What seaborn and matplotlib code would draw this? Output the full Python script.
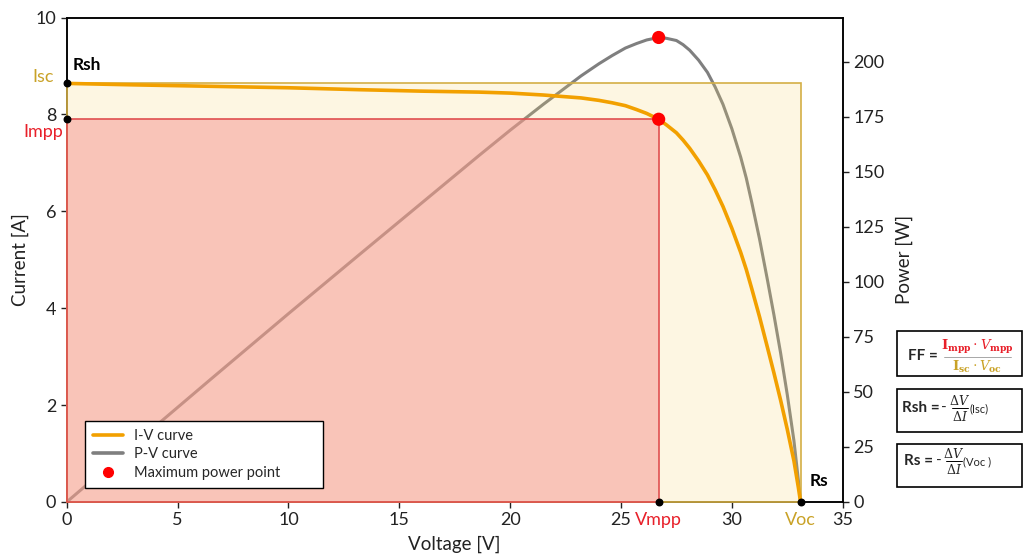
import matplotlib
matplotlib.use("Agg")
import matplotlib.pyplot as plt
import seaborn as sns
from matplotlib.patches import Rectangle
from matplotlib.lines import Line2D

# Measured I-V characteristic of the PV module
voltage = [0.0, 3.0, 6.5, 10.0, 13.2, 16.0, 18.6, 20.0, 21.5, 23.2, 24.0, 24.6,
           25.2, 25.7, 26.16, 26.7, 27.06, 27.5, 27.8, 28.1, 28.5, 28.9, 29.25,
           29.6, 30.0, 30.4, 30.65, 30.9, 31.25, 31.6, 31.9, 32.2, 32.5, 32.8,
           33.0, 33.1]
current = [8.64, 8.61, 8.58, 8.55, 8.51, 8.48, 8.46, 8.44, 8.40, 8.34, 8.29, 8.24,
           8.18, 8.10, 8.02, 7.90, 7.78, 7.62, 7.47, 7.30, 7.04, 6.75, 6.44,
           6.10, 5.65, 5.15, 4.80, 4.40, 3.82, 3.20, 2.66, 2.10, 1.50, 0.85,
           0.30, 0.0]
power = [v * i for v, i in zip(voltage, current)]

# Characteristic points
Isc = 8.64
Voc = 33.1
Vmpp = 26.7
Impp = 7.90
Pmpp = Vmpp * Impp

x_ticks = [0, 5, 10, 15, 20, 25, 30, 35]
y_ticks = [0, 2, 4, 6, 8, 10]
p_ticks = [0, 25, 50, 75, 100, 125, 150, 175, 200]

ORANGE = "#F2A000"
GREY = "#7F7F7F"
GOLD = "#C9A227"
RED = "#E8202A"

sns.set_theme(style="ticks")
plt.rcParams["font.family"] = ["Lato", "DejaVu Sans"]

W, H = 1024, 560
fig = plt.figure(figsize=(W / 100, H / 100), dpi=100)


def fx(x):
    return x / W


def fy(y):
    return 1 - y / H


ax = fig.add_axes([fx(66.7), fy(502), fx(842.7) - fx(66.7), fy(17.5) - fy(502)])
ax2 = ax.twinx()
ax.set_zorder(ax2.get_zorder() + 1)
ax.patch.set_visible(False)
ax2.patch.set_visible(True)
ax2.patch.set_facecolor("white")

# Isc x Voc and Impp x Vmpp rectangles
ax.add_patch(Rectangle((0, 0), Voc, Isc, facecolor=(0.96, 0.84, 0.43, 0.2),
                       edgecolor="#D4AF45", lw=1.2, zorder=3, clip_on=False))
ax.add_patch(Rectangle((0, 0), Vmpp, Impp, facecolor=(0.969, 0.577, 0.565, 0.5),
                       edgecolor="#E05050", lw=1.2, zorder=3, clip_on=False))

# Curves
sns.lineplot(x=voltage, y=current, ax=ax, color=ORANGE, lw=2.6, zorder=4)
sns.lineplot(x=voltage, y=power, ax=ax2, color=GREY, lw=2.2, zorder=2)

# Maximum power point on both curves
sns.scatterplot(x=[Vmpp], y=[Impp], ax=ax, color="red", s=90, edgecolor="none",
                zorder=6, clip_on=False)
sns.scatterplot(x=[Vmpp], y=[Pmpp], ax=ax2, color="red", s=90, edgecolor="none",
                zorder=6, clip_on=False)

# Small black markers on the axes
ax.scatter([0, 0, Vmpp, Voc], [Isc, Impp, 0, 0], s=22, color="black",
           zorder=7, clip_on=False)

ax.set_xlim(0, 35)
ax.set_ylim(0, 10)
ax2.set_ylim(0, 220)
ax.set_xticks(x_ticks)
ax.set_yticks(y_ticks)
ax2.set_yticks(p_ticks)

for a in (ax, ax2):
    for s in a.spines.values():
        s.set_color("black")
        s.set_linewidth(1.1)
    a.tick_params(length=4, width=1, colors="#222222", labelsize=13)

ax.set_xlabel("Voltage [V]", fontsize=13.5, color="#222222", labelpad=5)
ax.set_ylabel("Current [A]", fontsize=13.5, color="#222222", labelpad=5)
ax2.set_ylabel("Power [W]", fontsize=13.5, color="#222222", labelpad=8)

# Point labels
ax.annotate("Isc", xy=(0, Isc), xytext=(-17, 4.5), textcoords="offset points",
            ha="center", va="center", color=GOLD, fontsize=13, annotation_clip=False)
ax.annotate("Impp", xy=(0, Impp), xytext=(-17, -9), textcoords="offset points",
            ha="center", va="center", color=RED, fontsize=13, annotation_clip=False)
ax.annotate("Rsh", xy=(0, Isc), xytext=(4.5, 13.5), textcoords="offset points",
            ha="left", va="center", color="black", fontsize=12.5, fontweight="bold",
            annotation_clip=False)
ax.annotate("Rs", xy=(Voc, 0), xytext=(6.5, 15), textcoords="offset points",
            ha="left", va="center", color="black", fontsize=12.5, fontweight="bold",
            annotation_clip=False)
ax.annotate("Vmpp", xy=(Vmpp, 0), xytext=(0, -7.5), textcoords="offset points",
            ha="center", va="top", color=RED, fontsize=13, annotation_clip=False)
ax.annotate("Voc", xy=(Voc, 0), xytext=(0, -7.5), textcoords="offset points",
            ha="center", va="top", color=GOLD, fontsize=13, annotation_clip=False)

# Legend
handles = [Line2D([], [], color=ORANGE, lw=2.6),
           Line2D([], [], color=GREY, lw=2.6),
           Line2D([], [], color="red", marker="o", ls="none", markersize=7)]
labels = ["I-V curve", "P-V curve", "Maximum power point"]
leg = ax.legend(handles, labels, loc="lower left", mode="expand",
                bbox_to_anchor=(0.0146, 0.0144, 0.325, 0.15), fontsize=10.5,
                frameon=True, fancybox=False, edgecolor="black", framealpha=1,
                handlelength=2.0, labelspacing=0.3, borderpad=0.55)
leg.get_frame().set_linewidth(1.0)
leg.set_zorder(10)

# Formula boxes
box_kw = dict(transform=fig.transFigure, facecolor="white", edgecolor="black", lw=1.2)
for top, bottom in [(331, 376), (389, 432), (444, 487)]:
    fig.add_artist(Rectangle((fx(897), fy(bottom)), fx(1022) - fx(897),
                             fy(top) - fy(bottom), **box_kw))

fig.text(fx(908), fy(356), "FF =", fontsize=11, fontweight="bold", va="center", ha="left")
fig.text(fx(977), fy(347), r"$\mathbf{I}_{\mathbf{mpp}}\cdot V_{\mathbf{mpp}}$",
         color=RED, fontsize=9.5, ha="center", va="center", math_fontfamily="dejavuserif")
fig.add_artist(Line2D([fx(944), fx(1011)], [fy(357), fy(357)], color="#999999",
                      lw=0.6, transform=fig.transFigure))
fig.text(fx(977), fy(367), r"$\mathbf{I}_{\mathbf{sc}}\cdot V_{\mathbf{oc}}$",
         color=GOLD, fontsize=9.5, ha="center", va="center", math_fontfamily="dejavuserif")


def frac_box(label, x_label, x_minus, x_frac, x_paren, y_mid, paren):
    fig.text(fx(x_label), fy(y_mid), label, fontsize=11, fontweight="bold",
             va="center", ha="left")
    fig.text(fx(x_minus), fy(y_mid), "-", fontsize=11, va="center", ha="center")
    fig.text(fx(x_frac), fy(y_mid - 8), r"$\Delta V$", fontsize=9, ha="center",
             va="center", math_fontfamily="dejavuserif")
    fig.add_artist(Line2D([fx(x_frac - 8), fx(x_frac + 8)], [fy(y_mid), fy(y_mid)],
                          color="black", lw=0.7, transform=fig.transFigure))
    fig.text(fx(x_frac), fy(y_mid + 8), r"$\Delta I$", fontsize=9, ha="center",
             va="center", math_fontfamily="dejavuserif")
    fig.text(fx(x_paren), fy(y_mid + 1), paren, fontsize=8, ha="left", va="center")


frac_box("Rsh =", 902, 944, 960, 969, 408, "(Isc)")
frac_box("Rs =", 904, 939, 954, 963, 461, "(Voc )")

fig.savefig("out.png", dpi=100)
